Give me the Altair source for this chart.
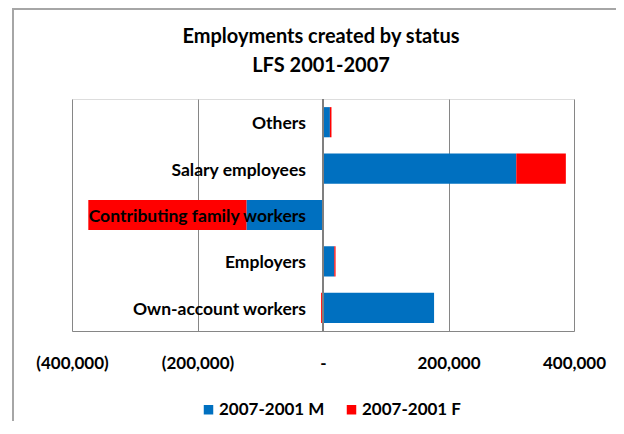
import altair as alt
import pandas as pd

title_lines = ["Employments created by status", "LFS 2001-2007"]
categories = ["Others", "Salary employees", "Contributing family workers", "Employers", "Own-account workers"]
male = [11000, 308000, -122000, 18000, 177000]
female = [2500, 79000, -252000, 2000, -3000]
series = ["2007-2001 M", "2007-2001 F"]
colors = ["#0070C0", "#FF0000"]
x_ticks = [-400000, -200000, 0, 200000, 400000]

rows = []
for c, m, f in zip(categories, male, female):
    rows.append({"category": c, "series": series[0], "value": m, "order": 0})
    rows.append({"category": c, "series": series[1], "value": f, "order": 1})
df = pd.DataFrame(rows)
labels_df = pd.DataFrame({"category": categories})

FONT = "Lato"
GRID = "#868686"

y_enc = alt.Y("category:N", sort=categories, axis=None,
              scale=alt.Scale(paddingInner=0.35, paddingOuter=0.175))

label_expr = ("datum.value < 0 ? '(' + format(-datum.value, ',') + ')' : "
              "(datum.value == 0 ? '-' : format(datum.value, ','))")

bars = alt.Chart(df).mark_bar().encode(
    x=alt.X("value:Q", stack="zero",
            scale=alt.Scale(domain=[-400000, 400000], nice=False, zero=False),
            axis=alt.Axis(values=x_ticks, labelExpr=label_expr, title=None, grid=True,
                          gridColor=GRID, gridOpacity=1, domainColor=GRID, ticks=False,
                          labelPadding=24, labelFont=FONT, labelFontSize=17,
                          labelFontWeight="bold", labelColor="black", labelFlush=False)),
    y=y_enc,
    color=alt.Color("series:N", scale=alt.Scale(domain=series, range=colors),
                    legend=alt.Legend(orient="none", legendX=128, legendY=302,
                                      direction="horizontal", title=None,
                                      symbolType="square", symbolSize=90,
                                      symbolStrokeWidth=0, labelFont=FONT,
                                      labelFontSize=17, labelFontWeight="bold",
                                      labelColor="black", columnPadding=18,
                                      labelOffset=2)),
    order=alt.Order("order:Q"),
)

zero_rule = alt.Chart(labels_df).mark_rule(color="#7f7f7f", strokeWidth=1.5).encode(
    x=alt.datum(0)
)

labels = alt.Chart(labels_df).mark_text(
    align="right", baseline="middle", dx=-17, dy=2, font=FONT, fontSize=17.5,
    fontWeight="bold", color="black"
).encode(
    y=y_enc,
    x=alt.datum(0),
    text="category:N",
)

title_df = pd.DataFrame({"line": title_lines, "idx": [0, 1]})
title_1 = alt.Chart(title_df).transform_filter("datum.idx == 0").mark_text(
    align="center", baseline="middle", font=FONT, fontSize=20, fontWeight="bold",
    color="black"
).encode(text="line:N", x=alt.value(249), y=alt.value(-62))
title_2 = alt.Chart(title_df).transform_filter("datum.idx == 1").mark_text(
    align="center", baseline="middle", font=FONT, fontSize=20, fontWeight="bold",
    color="black"
).encode(text="line:N", x=alt.value(249), y=alt.value(-33))

frame_left = alt.Chart(labels_df).mark_rule(color="#a6a6a6", strokeWidth=2).encode(
    x=alt.value(-59), y=alt.value(-91), y2=alt.value(330)
)
frame_top = alt.Chart(labels_df).mark_rule(color="#a6a6a6", strokeWidth=2).encode(
    x=alt.value(-59), x2=alt.value(560), y=alt.value(-90)
)

chart = alt.layer(frame_left, frame_top, bars, zero_rule, labels, title_1, title_2).properties(
    width=502,
    height=232,
    autosize=alt.AutoSizeParams(type="none"),
    padding={"left": 64, "top": 91, "right": 42, "bottom": 90},
).configure_view(stroke=None).configure(background="white")

chart.save("out.html", embed_options={"renderer": "svg", "actions": False})
